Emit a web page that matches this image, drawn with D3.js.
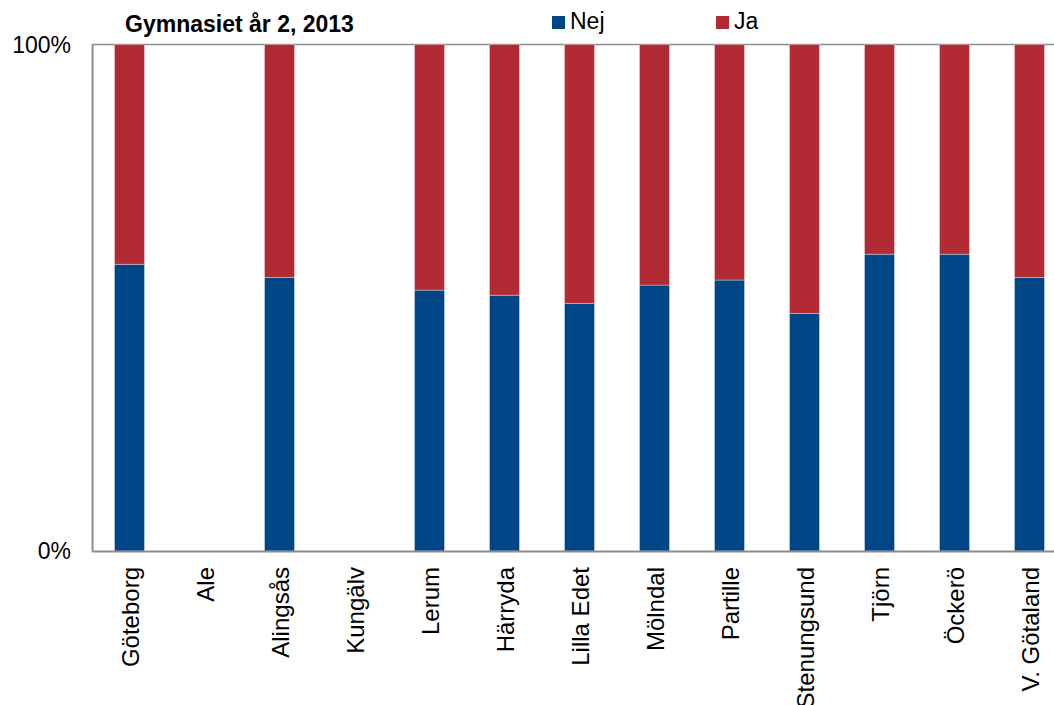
<!DOCTYPE html>
<html>
<head>
<meta charset="utf-8">
<script src="https://cdn.jsdelivr.net/npm/d3@7"></script>
<style>
  body { margin: 0; background: #fff; }
  text { font-family: "Liberation Sans", Arial, sans-serif; fill: #000; }
</style>
</head>
<body>
<svg width="1054" height="705"></svg>
<script>
var width = 1054;
var height = 705;

// Data (percent of pupils)
var kommuner = ['Göteborg', 'Ale', 'Alingsås', 'Kungälv', 'Lerum', 'Härryda', 'Lilla Edet', 'Mölndal', 'Partille', 'Stenungsund', 'Tjörn', 'Öckerö', 'V. Götaland'];
var nej = [56.6, null, 54.0, null, 51.5, 50.5, 48.9, 52.5, 53.5, 46.9, 58.6, 58.6, 54.0];
var ja  = [43.4, null, 46.0, null, 48.5, 49.5, 51.1, 47.5, 46.5, 53.1, 41.4, 41.4, 46.0];
var seriesNames = ['Nej', 'Ja'];
var yTicks = [0, 100];

var colors = d3.scaleOrdinal()
    .domain(seriesNames)
    .range(['#004586', '#b22a33']);

var rows = kommuner.map((k, i) => ({ kommun: k, Nej: nej[i] || 0, Ja: ja[i] || 0 }));

var x = d3.scaleBand()
    .domain(kommuner)
    .range([92, 1067])
    .paddingInner(0.6)
    .paddingOuter(0.3);

var y = d3.scaleLinear()
    .domain([0, 100])
    .range([551, 44.5]);

var svg = d3.select('svg');

// 100% line along the top
svg.append('line')
    .attr('x1', 92).attr('x2', width)
    .attr('y1', y(100)).attr('y2', y(100))
    .attr('stroke', '#8c8c8c')
    .attr('stroke-width', 1.5);

var stacked = d3.stack().keys(seriesNames)(rows);

svg.append('g')
    .selectAll('g')
    .data(stacked)
    .enter()
    .append('g')
        .attr('fill', d => colors(d.key))
    .selectAll('rect')
    .data(d => d)
    .enter()
    .append('rect')
        .attr('x', d => x(d.data.kommun))
        .attr('width', x.bandwidth())
        .attr('y', d => y(d[1]))
        .attr('height', d => y(d[0]) - y(d[1]))
        .attr('stroke', 'rgba(255,255,255,0.35)')
        .attr('stroke-width', 1)
        .style('display', d => d[1] - d[0] > 0 ? null : 'none');

// y axis
var yAxis = svg.append('g')
    .attr('transform', 'translate(92,0)')
    .call(d3.axisLeft(y).tickValues(yTicks).tickSize(0).tickPadding(21).tickFormat(d => d + '%'));
yAxis.select('.domain').attr('stroke', '#8c8c8c').attr('stroke-width', 2);
yAxis.selectAll('text')
    .style('font-size', '23px')
    .attr('font-family', null)
    .attr('dy', '0.33em');

// x axis
var xAxis = svg.append('g')
    .attr('transform', 'translate(0,551)')
    .call(d3.axisBottom(x).tickSize(0).tickSizeOuter(0));
xAxis.select('.domain').attr('stroke', '#8c8c8c').attr('stroke-width', 2);
xAxis.selectAll('text')
    .style('font-size', '24px')
    .attr('font-family', null)
    .attr('text-anchor', 'end')
    .attr('transform', 'rotate(-90)')
    .attr('x', -16)
    .attr('y', 0)
    .attr('dy', '0.38em');

// title
svg.append('text')
    .attr('x', 125)
    .attr('y', 32)
    .style('font-size', '23px')
    .style('font-weight', 'bold')
    .text('Gymnasiet år 2, 2013');

// legend
var legendX = [552, 716];
var legend = svg.append('g')
    .selectAll('g')
    .data(seriesNames)
    .enter()
    .append('g')
        .attr('transform', (d, i) => `translate(${legendX[i]}, 16)`);

legend.append('rect')
    .attr('width', 13)
    .attr('height', 13)
    .attr('fill', d => colors(d));

legend.append('text')
    .attr('x', 18)
    .attr('y', 13)
    .style('font-size', '23px')
    .text(d => d);
</script>
</body>
</html>
